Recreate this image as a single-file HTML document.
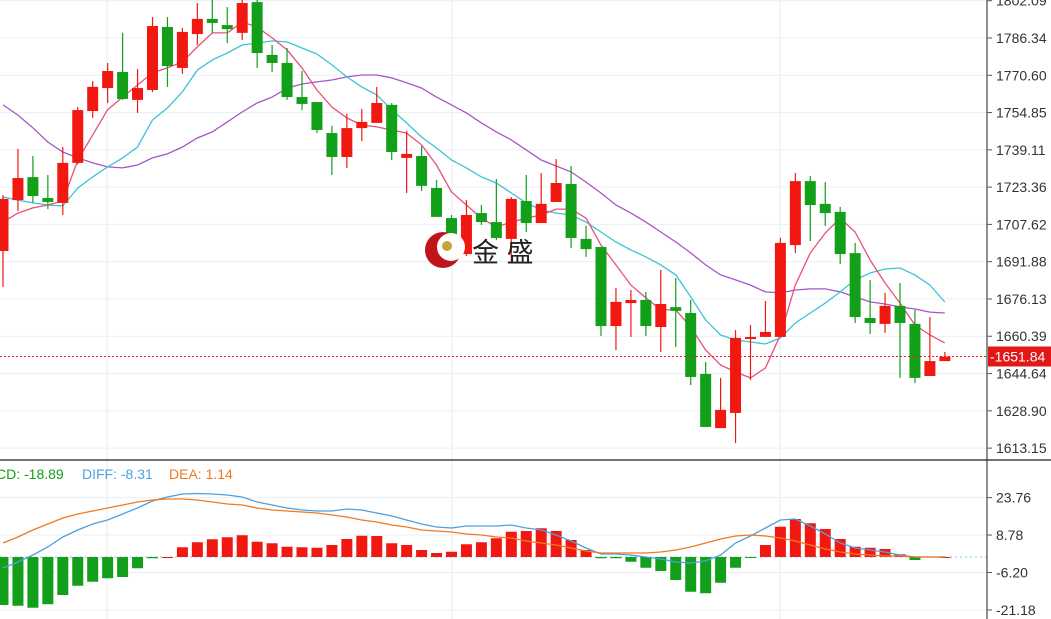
<!DOCTYPE html>
<html><head><meta charset="utf-8"><style>
html,body{margin:0;padding:0;background:#fff;}
svg{display:block;font-family:"Liberation Sans","Noto Sans CJK SC",sans-serif;}
</style></head><body>
<svg id="chart" width="1051" height="619" viewBox="0 0 1051 619" xmlns="http://www.w3.org/2000/svg">
<g id="grid"></g>
<g id="ma"></g>
<g id="candles"></g>
<g id="macd"></g>
<g id="axes"></g>
<g>
  <circle cx="443" cy="250" r="18" fill="#c0141b"/>
  <circle cx="451" cy="247" r="14" fill="#fff"/>
  <circle cx="447" cy="246" r="5" fill="#c9a23a"/>
  <text x="472" y="262" font-size="27" fill="#222">金 盛</text>
</g>
<g>
  <text x="-4" y="479" font-size="14" fill="#1a9a1a">CD: -18.89</text>
  <text x="82" y="479" font-size="14" fill="#4ea0e0">DIFF: -8.31</text>
  <text x="169" y="479" font-size="14" fill="#f07a20">DEA: 1.14</text>
</g>
</svg>
<script>
const opens=[1696.4,1717.9,1727.6,1718.8,1716.7,1733.6,1755.5,1765.2,1772.0,1760.2,1764.4,1791.0,1773.7,1788.0,1794.4,1791.8,1788.5,1801.5,1779.2,1775.8,1761.4,1759.3,1746.2,1736.1,1748.3,1750.5,1758.1,1735.7,1736.5,1723.0,1710.3,1695.1,1712.4,1708.6,1701.5,1717.5,1708.2,1717.1,1724.7,1701.5,1698.1,1664.7,1674.4,1675.7,1664.3,1672.7,1670.2,1644.5,1621.6,1628.0,1659.2,1660.1,1660.1,1698.9,1725.9,1716.3,1712.9,1695.5,1668.1,1665.6,1673.2,1665.6,1643.6,1649.9];
const highs=[1720.0,1739.5,1736.5,1728.5,1740.3,1757.2,1768.2,1775.8,1788.5,1773.2,1795.2,1795.2,1790.6,1801.1,1803.7,1799.4,1803.2,1803.2,1783.4,1782.1,1772.4,1759.3,1749.2,1754.3,1756.4,1765.7,1758.9,1747.1,1740.7,1726.4,1711.6,1717.9,1715.8,1726.8,1719.2,1728.5,1729.3,1735.2,1732.3,1707.0,1698.1,1680.8,1679.9,1679.1,1688.4,1685.0,1675.7,1649.5,1642.8,1663.0,1665.1,1675.3,1701.9,1729.3,1728.1,1725.5,1715.0,1699.8,1684.2,1678.7,1682.9,1671.5,1668.5,1653.8];
const lows=[1681.2,1713.3,1716.7,1714.1,1711.6,1733.0,1752.6,1758.9,1760.2,1754.7,1763.5,1765.7,1771.2,1783.4,1788.5,1784.2,1785.5,1773.7,1772.0,1760.2,1755.9,1746.2,1728.5,1731.4,1742.8,1750.5,1734.8,1720.9,1721.7,1710.8,1696.8,1694.3,1707.4,1701.0,1691.3,1704.4,1708.2,1717.1,1697.7,1693.9,1660.5,1654.6,1660.1,1660.5,1653.7,1655.9,1639.8,1622.1,1621.6,1615.3,1641.9,1660.1,1660.1,1695.5,1700.6,1707.0,1690.9,1666.0,1661.3,1661.8,1642.8,1640.6,1643.6,1649.9];
const closes=[1718.4,1727.2,1719.6,1717.1,1733.6,1755.9,1765.7,1772.4,1760.6,1765.2,1791.4,1774.5,1788.9,1794.4,1792.7,1790.1,1801.1,1780.0,1775.8,1761.4,1758.5,1747.5,1736.1,1748.3,1750.9,1758.9,1738.2,1737.4,1723.9,1710.8,1697.7,1711.6,1708.6,1701.9,1718.4,1708.2,1716.3,1725.1,1701.9,1697.2,1664.7,1674.9,1675.7,1664.7,1674.0,1671.1,1643.2,1622.1,1629.3,1659.7,1660.1,1662.2,1699.8,1725.9,1715.8,1712.4,1695.1,1668.5,1666.0,1673.2,1666.0,1642.8,1649.9,1651.8];
const ma5=[1708.6,1712.4,1714.6,1715.8,1717.5,1734.8,1745.4,1756.0,1761.4,1766.5,1771.6,1773.7,1776.2,1782.6,1788.5,1788.5,1793.1,1791.0,1786.4,1781.3,1773.7,1764.4,1757.2,1752.6,1749.6,1748.8,1747.5,1746.2,1741.2,1732.7,1721.3,1715.8,1710.3,1706.5,1708.6,1710.3,1711.6,1714.1,1714.1,1710.3,1698.9,1690.5,1682.0,1676.6,1671.5,1671.5,1664.3,1654.6,1648.3,1645.3,1642.8,1647.0,1660.9,1682.0,1695.6,1704.0,1710.3,1704.4,1692.6,1682.9,1674.4,1665.2,1660.9,1657.6];
const ma10=[1719.2,1717.9,1716.7,1715.8,1715.4,1723.0,1727.7,1731.9,1735.7,1740.3,1751.7,1756.8,1763.6,1772.8,1777.1,1780.0,1783.4,1784.2,1785.1,1784.7,1782.1,1779.6,1775.0,1769.9,1765.7,1762.3,1756.0,1750.5,1744.5,1739.9,1734.8,1731.5,1727.7,1725.1,1720.9,1716.7,1713.7,1712.4,1711.6,1708.6,1704.4,1700.2,1696.8,1693.9,1690.5,1686.3,1677.0,1667.3,1660.9,1658.8,1658.0,1657.1,1659.7,1666.0,1670.2,1674.4,1679.1,1684.2,1687.1,1688.8,1689.2,1686.3,1682.0,1674.9];
const ma20=[1758.1,1753.8,1748.4,1742.4,1738.2,1735.7,1733.6,1731.9,1731.5,1732.7,1735.7,1737.4,1740.3,1744.1,1746.7,1750.9,1755.1,1758.9,1761.4,1765.2,1766.9,1767.8,1768.6,1769.9,1770.7,1770.7,1769.5,1767.4,1765.2,1761.4,1758.1,1754.7,1750.5,1746.7,1743.3,1739.1,1734.8,1732.3,1729.8,1725.5,1720.9,1715.8,1712.4,1708.6,1704.4,1700.2,1695.6,1690.5,1686.3,1684.2,1682.0,1679.1,1678.7,1679.9,1680.4,1680.4,1679.1,1677.0,1674.9,1674.0,1672.8,1671.9,1670.6,1670.2];
const macdHist=[-19.2,-19.5,-20.3,-18.9,-15.2,-11.5,-9.9,-8.5,-8.0,-4.5,-0.5,0,3.9,5.9,7.1,7.9,8.7,6.1,5.5,4.1,3.9,3.7,4.8,7.2,8.5,8.4,5.5,4.8,2.8,1.6,2.1,5.1,5.9,7.5,10.1,10.4,11.5,10.4,6.8,2.8,-0.5,-0.5,-1.9,-4.3,-5.6,-9.2,-13.9,-14.5,-10.3,-4.3,-0.4,4.8,12.1,15.2,13.5,11.2,7.2,4.1,3.7,3.2,1.1,-1.2,0.2,0];
const diffVals=[-4.4,-2.0,0.8,4.0,8.0,10.8,13.2,14.8,17.2,19.6,22.4,24.0,25.2,25.4,25.2,24.8,24.0,22.0,20.8,19.6,18.8,18.4,18.4,19.2,18.8,17.6,16.4,14.8,13.2,12.0,11.6,12.4,12.4,12.4,12.8,11.6,10.8,8.8,6.4,3.6,1.2,1.2,0.8,0,-0.8,-2.0,-2.4,-1.6,0.8,5.6,8.4,11.6,14.8,15.2,12.4,9.2,5.6,3.6,2.8,2.0,0.8,0,0,0];
const deaVals=[5.6,8.0,10.8,13.2,15.6,17.2,18.4,19.6,20.8,22.0,22.8,23.2,23.2,22.8,22.0,21.2,20.8,19.6,18.8,18.4,18.0,17.6,16.8,16.0,14.8,14.0,12.8,12.0,10.8,10.4,10.0,9.2,8.8,8.0,7.6,6.4,5.6,4.8,3.6,2.4,1.6,1.6,1.6,1.6,2.0,2.8,4.0,5.6,7.2,8.4,8.8,8.4,7.6,6.4,4.8,3.2,2.0,1.2,0.8,0.4,0.4,0,0,0];
const priceTicks=[1802.09,1786.34,1770.60,1754.85,1739.11,1723.36,1707.62,1691.88,1676.13,1660.39,1644.64,1628.90,1613.15];
const macdTicks=[23.76,8.78,-6.20,-21.18];
const lastPrice=1651.84;

const NS='http://www.w3.org/2000/svg';
function mk(parent,tag,attrs){const e=document.createElementNS(NS,tag);for(const k in attrs)e.setAttribute(k,attrs[k]);parent.appendChild(e);return e;}
const xOf=i=>3+i*14.95;
const yP=p=>38+(1786.34-p)*2.368;
const yM=v=>557-v*2.5;
const UP='#f01810',DN='#12a01a';

const grid=document.getElementById('grid');
[107,452,780].forEach(x=>{const l=mk(grid,'line',{x1:x,y1:0,x2:x,y2:619,stroke:'#e6edf2','stroke-width':1});

});
priceTicks.forEach(t=>{const l=mk(grid,'line',{x1:0,y1:yP(t),x2:987,y2:yP(t),stroke:'#eceff2','stroke-width':1});

});
macdTicks.forEach(t=>{const l=mk(grid,'line',{x1:0,y1:yM(t),x2:987,y2:yM(t),stroke:'#eceff2','stroke-width':1});

});

const ma=document.getElementById('ma');
function line(arr,color,name,scale,g){const d=arr.map((v,i)=>(i?'L':'M')+xOf(i).toFixed(1)+' '+scale(v).toFixed(1)).join(' ');
const p=mk(g,'path',{d:d,fill:'none',stroke:color,'stroke-width':1.3});

}
line(ma20,'#a855c8','ma20-line',yP,ma);
line(ma10,'#3cc4d6','ma10-line',yP,ma);
line(ma5,'#e8507a','ma5-line',yP,ma);

const cg=document.getElementById('candles');
closes.forEach((c,i)=>{const o=opens[i],up=c>=o,col=up?UP:DN,x=xOf(i);
const g=mk(cg,'g',{});


mk(g,'line',{x1:x,y1:yP(highs[i]),x2:x,y2:yP(lows[i]),stroke:col,'stroke-width':1.2});
const top=yP(Math.max(o,c)),bot=yP(Math.min(o,c));
mk(g,'rect',{x:x-5.5,y:top,width:11,height:Math.max(2,bot-top),fill:col});});

// price line
const ax=document.getElementById('axes');
const pl=mk(ax,'line',{x1:0,y1:yP(lastPrice),x2:987,y2:yP(lastPrice),stroke:'#e02020','stroke-width':1,'stroke-dasharray':'2,2'});



// MACD
const mg=document.getElementById('macd');
const zl=mk(mg,'line',{x1:0,y1:yM(0),x2:987,y2:yM(0),stroke:'#7cc8e0','stroke-width':1,'stroke-dasharray':'2,3'});


macdHist.forEach((v,i)=>{const x=xOf(i),y0=yM(0),y1=yM(v);
const r=mk(mg,'rect',{x:x-5.5,y:Math.min(y0,y1),width:11,height:Math.max(1,Math.abs(y1-y0)),fill:v>=0?UP:DN});

});
line(diffVals,'#4ea0e0','diff-line',yM,mg);
line(deaVals,'#f07a20','dea-line',yM,mg);

// axes
const a1=mk(ax,'line',{x1:987,y1:0,x2:987,y2:619,stroke:'#555','stroke-width':1.3});


const sep=mk(ax,'line',{x1:0,y1:460,x2:1051,y2:460,stroke:'#222','stroke-width':1.3});


function tick(t,y,name){mk(ax,'line',{x1:987,y1:y,x2:992,y2:y,stroke:'#555'});
const tx=mk(ax,'text',{x:996,y:y+5,'font-size':14,fill:'#333'});tx.textContent=t;

}
priceTicks.forEach(t=>tick(t.toFixed(2),yP(t),'price-tick-label'));
macdTicks.forEach(t=>tick(t.toFixed(2),yM(t),'macd-tick-label'));
const lb=mk(ax,'rect',{x:988,y:yP(lastPrice)-10,width:63,height:20,fill:'#e01818'});


const lt=mk(ax,'text',{x:990,y:yP(lastPrice)+5,'font-size':14,fill:'#fff'});lt.textContent='-'+lastPrice.toFixed(2);


</script>
</body></html>
